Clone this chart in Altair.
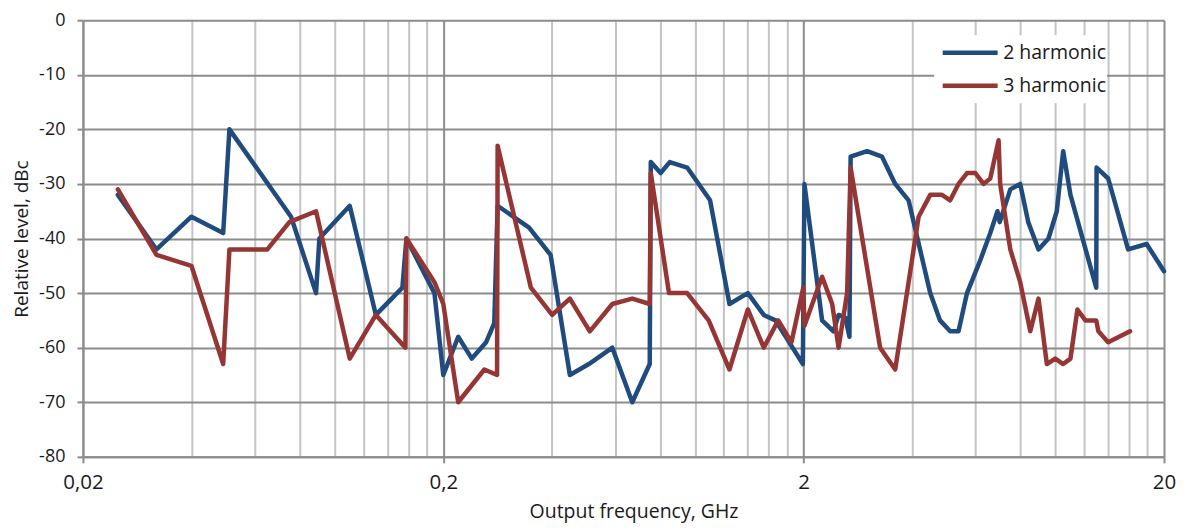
import altair as alt
import pandas as pd

# 2 harmonic (GHz, dBc)
f2 = [0.025, 0.032, 0.04, 0.049, 0.051, 0.0756, 0.0887, 0.0906, 0.11, 0.13, 0.154, 0.158,
      0.189, 0.2, 0.22, 0.24, 0.263, 0.277, 0.283, 0.346, 0.397, 0.449, 0.507, 0.589, 0.669,
      0.748, 0.753, 0.802, 0.85, 0.95, 1.10, 1.245, 1.40, 1.55, 1.67, 1.99, 2.01, 2.25, 2.42,
      2.5, 2.61, 2.68, 2.70, 3.0, 3.3, 3.59, 3.91, 4.49, 4.78, 5.10, 5.38, 5.68, 6.18, 6.59,
      6.9, 7.0, 7.49, 7.98, 8.4, 8.97, 9.56, 10.08, 10.5, 11.0, 12.97, 13.0, 14.0, 15.9, 17.9, 20.0]
v2 = [-32, -42, -36, -39, -20, -36, -50, -40, -34, -54, -49, -40,
      -50, -65, -58, -62, -59, -55.5, -34, -38, -43, -65, -63, -60, -70,
      -63, -26, -28, -26, -27, -33, -52, -50, -54, -55, -63, -30, -55, -57,
      -54, -54.5, -58, -25, -24, -25, -30, -33, -50, -55, -57, -57, -50, -44, -39,
      -35, -37, -31, -30, -37, -42, -40, -35, -24, -32, -49, -27, -29, -42, -41, -46]

# 3 harmonic (GHz, dBc)
f3 = [0.025, 0.032, 0.04, 0.049, 0.051, 0.065, 0.0748, 0.0887, 0.11, 0.13, 0.157, 0.158,
      0.189, 0.2, 0.22, 0.26, 0.282, 0.283, 0.35, 0.401, 0.449, 0.51, 0.589, 0.669, 0.748,
      0.753, 0.846, 0.95, 1.09, 1.245, 1.40, 1.55, 1.70, 1.85, 1.995, 2.01, 2.25, 2.40, 2.5,
      2.64, 2.70, 3.26, 3.59, 4.17, 4.49, 4.84, 5.10, 5.38, 5.68, 5.99, 6.31, 6.59, 6.95,
      7.02, 7.49, 7.98, 8.51, 8.97, 9.46, 9.98, 10.5, 11.0, 11.5, 12.1, 12.97, 13.15, 14.0, 16.1]
v3 = [-31, -43, -45, -63, -42, -42, -37, -35, -62, -54, -60, -40,
      -48, -52, -70, -64, -65, -23, -49, -54, -51, -57, -52, -51, -52,
      -28, -50, -50, -55, -64, -53, -60, -55, -59, -49, -56, -47, -52, -60,
      -50, -27, -60, -64, -36, -32, -32, -33, -30, -28, -28, -30, -29, -22,
      -30, -42, -48, -57, -51, -63, -62, -63, -62, -53, -55, -55, -57, -59, -57]

series_names = ["2 harmonic", "3 harmonic"]
series_colors = ["#1F4B7F", "#963634"]

x_grid = [0.02, 0.04, 0.06, 0.08, 0.1, 0.12, 0.14, 0.16, 0.18,
          0.2, 0.4, 0.6, 0.8, 1, 1.2, 1.4, 1.6, 1.8,
          2, 4, 6, 8, 10, 12, 14, 16, 18, 20]
y_ticks = [-80, -70, -60, -50, -40, -30, -20, -10, 0]

rows = []
for i, (f, v) in enumerate(zip(f2, v2)):
    rows.append({"series": series_names[0], "freq": f, "level": v, "idx": i})
for i, (f, v) in enumerate(zip(f3, v3)):
    rows.append({"series": series_names[1], "freq": f, "level": v, "idx": i})
df = pd.DataFrame(rows)

FONT = "Open Sans"
major_test = "datum.value == 0.02 || datum.value == 0.2 || datum.value == 2 || datum.value == 20"

x_axis = alt.Axis(
    values=x_grid,
    title="Output frequency, GHz",
    titleFont=FONT, titleFontSize=19.5, titleFontWeight="normal", titleColor="#1a1a1a",
    titlePadding=9, titleX=551,
    labelExpr="datum.value == 0.02 ? '0,02' : datum.value == 0.2 ? '0,2' : datum.value == 2 ? '2' : datum.value == 20 ? '20' : ''",
    labelFont=FONT, labelFontSize=20.5, labelColor="#1a1a1a", labelPadding=10,
    labelFlush=False, labelOverlap=False,
    grid=True,
    gridColor={"condition": {"test": major_test, "value": "#8c8c8c"}, "value": "#c4c4c4"},
    gridWidth=2,
    tickColor={"condition": {"test": major_test, "value": "#8c8c8c"}, "value": "transparent"},
    tickSize=6, tickWidth=2,
    domainColor="#8c8c8c", domainWidth=2,
)

y_axis = alt.Axis(
    values=y_ticks,
    title="Relative level, dBc",
    titleFont=FONT, titleFontSize=19, titleFontWeight="normal", titleColor="#1a1a1a",
    titlePadding=7,
    labelExpr="'' + datum.value",
    labelFont=FONT, labelFontSize=18, labelColor="#1a1a1a", labelPadding=12,
    grid=True, gridColor="#8c8c8c", gridWidth=2,
    tickColor="#8c8c8c", tickSize=6, tickWidth=2,
    domainColor="#8c8c8c", domainWidth=2,
)

legend = alt.Legend(
    title=None, orient="none", legendX=852, legendY=15,
    fillColor="white", padding=1,
    symbolType="stroke", symbolSize=3025, symbolStrokeWidth=4.5,
    symbolOffset=5, clipHeight=33, rowPadding=0,
    labelFont=FONT, labelFontSize=19.5, labelColor="#1a1a1a",
    labelOffset=3,
    labelExpr="datum.label + '\u00a0\u00a0\u00a0\u00a0\u00a0\u00a0\u00a0\u00a0\u00a0\u00a0\u00a0\u00a0\u00a0'",
)

chart = alt.Chart(df).mark_line(strokeWidth=4.5, strokeJoin="round", strokeCap="round").encode(
    x=alt.X("freq:Q", scale=alt.Scale(type="log", domain=[0.02, 20], nice=False), axis=x_axis),
    y=alt.Y("level:Q", scale=alt.Scale(domain=[-80, 0], nice=False), axis=y_axis),
    color=alt.Color("series:N",
                    scale=alt.Scale(domain=series_names, range=series_colors),
                    legend=legend),
    order=alt.Order("idx:Q"),
).properties(
    width=1082, height=437,
    autosize=alt.AutoSizeParams(type="none"),
    padding={"left": 75, "top": 12, "right": 14, "bottom": 68},
).configure_view(stroke=None).configure(background="white")

chart.save("out.html", embed_options={"renderer": "svg", "actions": False})
